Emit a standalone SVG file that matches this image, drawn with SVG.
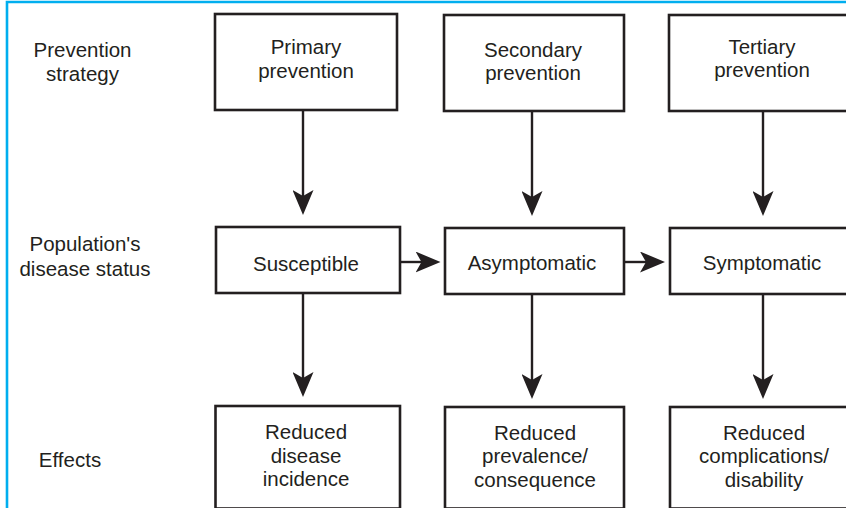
<svg xmlns="http://www.w3.org/2000/svg" width="846" height="508" viewBox="0 0 846 508">
  <style>
    .box { fill: #ffffff; stroke: #231f20; stroke-width: 2.6; }
    .lbl { font-family: "Liberation Sans", Arial, sans-serif; font-size: 20.5px; fill: #231f20; text-anchor: middle; }
    .conn { stroke: #231f20; stroke-width: 2.4; fill: none; }
    .frame { stroke: #00aeef; stroke-width: 2.6; fill: none; }
  </style>
  <defs>
    <marker id="arrow" viewBox="0 0 25 21" refX="10" refY="10.5" markerWidth="25" markerHeight="21" markerUnits="userSpaceOnUse" orient="auto">
      <path d="M0,0 L25,10.5 L0,21 L6,10.5 Z" fill="#231f20"/>
    </marker>
  </defs>
  <rect x="0" y="0" width="846" height="508" fill="#ffffff"/>
  <g id="frame">
    <path class="frame" d="M7,508 L7,2 L846,2"/>
  </g>

  <g id="row-labels">
    <text class="lbl" x="82.5" y="57">Prevention</text>
    <text class="lbl" x="82.5" y="80.5">strategy</text>
    <text class="lbl" x="85" y="251">Population's</text>
    <text class="lbl" x="85" y="276">disease status</text>
    <text class="lbl" x="70" y="467">Effects</text>
  </g>

  <g id="connectors">
    <path class="conn" d="M303,110 L303,200" marker-end="url(#arrow)"/>
    <path class="conn" d="M532,111 L532,201" marker-end="url(#arrow)"/>
    <path class="conn" d="M763,111 L763,201" marker-end="url(#arrow)"/>
    <path class="conn" d="M303,293 L303,382" marker-end="url(#arrow)"/>
    <path class="conn" d="M532,294 L532,384" marker-end="url(#arrow)"/>
    <path class="conn" d="M763,294 L763,384" marker-end="url(#arrow)"/>
    <path class="conn" d="M400,262 L425.5,262" marker-end="url(#arrow)"/>
    <path class="conn" d="M624,262 L650,262" marker-end="url(#arrow)"/>
  </g>

  <g id="primary">
    <rect class="box" x="215" y="14" width="182" height="96"/>
    <text class="lbl" x="306" y="54">Primary</text>
    <text class="lbl" x="306" y="77.5">prevention</text>
  </g>
  <g id="secondary">
    <rect class="box" x="444" y="15" width="180" height="96"/>
    <text class="lbl" x="533" y="57">Secondary</text>
    <text class="lbl" x="533" y="80">prevention</text>
  </g>
  <g id="tertiary">
    <rect class="box" x="669" y="15" width="190" height="96"/>
    <text class="lbl" x="762" y="53.5">Tertiary</text>
    <text class="lbl" x="762" y="77">prevention</text>
  </g>

  <g id="susceptible">
    <rect class="box" x="216" y="227" width="184" height="66"/>
    <text class="lbl" x="306" y="270.5">Susceptible</text>
  </g>
  <g id="asymptomatic">
    <rect class="box" x="445" y="228" width="179" height="66"/>
    <text class="lbl" x="532" y="270">Asymptomatic</text>
  </g>
  <g id="symptomatic">
    <rect class="box" x="670" y="228" width="190" height="66"/>
    <text class="lbl" x="762" y="270">Symptomatic</text>
  </g>

  <g id="effect-incidence">
    <rect class="box" x="215.5" y="406" width="184.5" height="102.5"/>
    <text class="lbl" x="306" y="439">Reduced</text>
    <text class="lbl" x="306" y="462.5">disease</text>
    <text class="lbl" x="306" y="486">incidence</text>
  </g>
  <g id="effect-prevalence">
    <rect class="box" x="445" y="407" width="179" height="101.5"/>
    <text class="lbl" x="535" y="439.5">Reduced</text>
    <text class="lbl" x="535" y="463">prevalence/</text>
    <text class="lbl" x="535" y="486.5">consequence</text>
  </g>
  <g id="effect-complications">
    <rect class="box" x="670" y="407" width="190" height="101.5"/>
    <text class="lbl" x="764" y="439.5">Reduced</text>
    <text class="lbl" x="764" y="463">complications/</text>
    <text class="lbl" x="764" y="486.5">disability</text>
  </g>
</svg>
